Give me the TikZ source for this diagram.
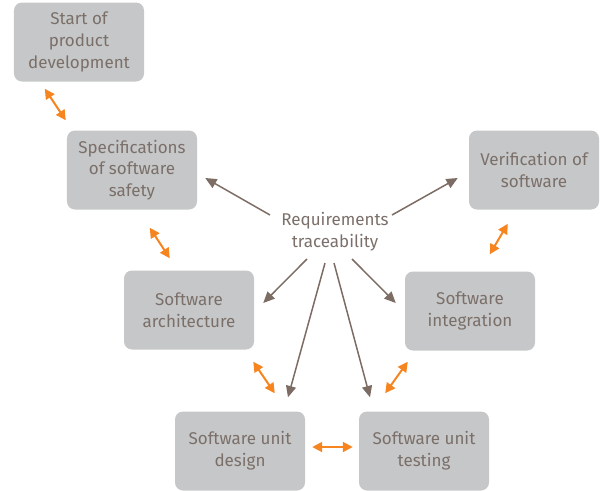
\documentclass[tikz,border=0pt]{standalone}
\usepackage{fontspec}
\setmainfont{Fira Sans}
\usetikzlibrary{arrows.meta}
\definecolor{boxgray}{HTML}{C6C7C8}
\definecolor{textbrown}{HTML}{7B6F69}
\definecolor{linkbrown}{HTML}{7C6C64}
\definecolor{linkorange}{HTML}{F6841F}
\begin{document}
\begin{tikzpicture}[x=0.03cm,y=-0.03cm,
    stage/.style={fill=boxgray,rounded corners=0.24cm,minimum width=3.9cm,minimum height=2.37cm,
      align=center,text=textbrown,font=\fontsize{14.5}{18.5}\selectfont},
    trace/.style={draw=linkbrown,line width=0.045cm,-{Triangle[length=0.34cm,width=0.3cm]}},
    pair/.style={draw=linkorange,line width=0.06cm,{Triangle[length=0.3cm,width=0.3cm]}-{Triangle[length=0.3cm,width=0.3cm]}}]
      \useasboundingbox (0,0) rectangle (601,490);
      \draw
        (79,42) node[stage] (start){Start of\\product\\development}
        (132,170) node[stage] (spec){Specifications\\of software\\safety}
        (534,170) node[stage] (verif){Verification of\\software}
        (189,310) node[stage] (arch){Software\\architecture}
        (470,311) node[stage] (integ){Software\\integration}
        (240,451) node[stage] (design){Software unit\\design}
        (424,451) node[stage] (test){Software unit\\testing}
        (335,232) node[align=center,text=textbrown,font=\fontsize{14.5}{18.5}\selectfont] (req){Requirements\\traceability};
      \begin{scope}[pair]
        \draw ([shift={(31,7)}]start.south west) to ([shift={(-1,-10)}]spec.north west);
        \draw ([shift={(83,18)}]spec.south west) to ([shift={(46,-12)}]arch.north west);
        \draw ([shift={(85,-17)}]integ.north west) to ([shift={(39,14)}]verif.south west);
        \draw ([shift={(-1,12)}]arch.south east) to ([shift={(100,-18)}]design.north west);
        \draw ([shift={(3,11)}]integ.south west) to ([shift={(-104,-18)}]test.north east);
        \draw ([shift={(7,-4)}]design.east) to ([shift={(-6,-4)}]test.west);
      \end{scope}
      \begin{scope}[trace]
        \draw ([shift={(-65,-17)}]req.center) to ([shift={(8,8)}]spec.east);
        \draw ([shift={(57,-17)}]req.center) to ([shift={(-11,8)}]verif.west);
        \draw ([shift={(-28,27)}]req.center) to ([shift={(9,-7)}]arch.east);
        \draw ([shift={(17,27)}]req.center) to ([shift={(-9,-8)}]integ.west);
        \draw ([shift={(-10,31)}]req.center) to ([shift={(48,-14)}]design.north);
        \draw ([shift={(-1,31)}]req.center) to ([shift={(-54,-14)}]test.north);
      \end{scope}
    \end{tikzpicture}
\end{document}
